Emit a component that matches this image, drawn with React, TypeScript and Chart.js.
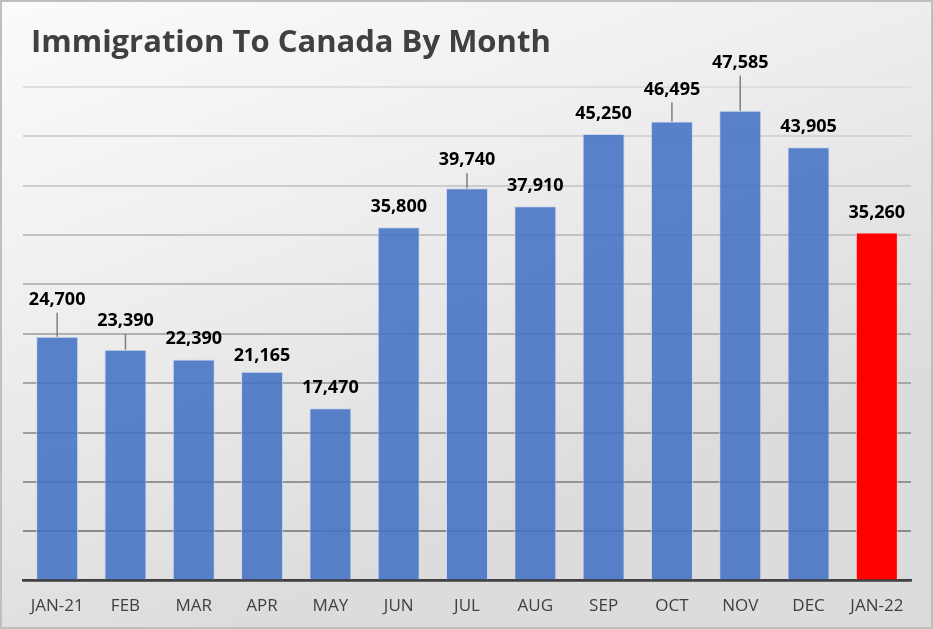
import React, { useEffect, useRef } from "react";
import { Chart, registerables } from "chart.js";

Chart.register(...registerables);

const TITLE = "Immigration To Canada By Month";
const categories = ["JAN-21", "FEB", "MAR", "APR", "MAY", "JUN", "JUL", "AUG", "SEP", "OCT", "NOV", "DEC", "JAN-22"];
const values = [24700, 23390, 22390, 21165, 17470, 35800, 39740, 37910, 45250, 46495, 47585, 43905, 35260];
const highlightIndex = [12];
const yMin = 0;
const yMax = 50000;
const yStep = 5000;

// label placement (style): distance in px from bar top to label centre, and whether a leader line is drawn
const labelLift = [37, 29, 21, 16, 20, 20, 28, 20, 20, 32, 48, 20, 20];
const leader = [true, true, false, false, false, false, true, false, false, true, true, false, false];

const FONT = "'Open Sans', 'DejaVu Sans', sans-serif";

const backgroundPlugin = {
  id: "bgPlugin",
  beforeDraw(chart: any) {
    const { ctx, width, height } = chart;
    ctx.save();
    const g = ctx.createLinearGradient(0, 0, width * 0.25, height);
    g.addColorStop(0, "#fbfbfb");
    g.addColorStop(0.45, "#efefef");
    g.addColorStop(1, "#dcdcdc");
    ctx.fillStyle = g;
    ctx.fillRect(0, 0, width, height);
    ctx.strokeStyle = "#bfbfbf";
    ctx.lineWidth = 2;
    ctx.strokeRect(1, 1, width - 2, height - 2);
    ctx.restore();
  },
};

const titlePlugin = {
  id: "titlePlugin",
  afterDraw(chart: any) {
    const { ctx } = chart;
    ctx.save();
    ctx.font = `bold 31px ${FONT}`;
    ctx.fillStyle = "#404040";
    ctx.textAlign = "left";
    ctx.textBaseline = "alphabetic";
    ctx.fillText(TITLE, 31, 52);
    ctx.restore();
  },
};

const labelPlugin = {
  id: "labelPlugin",
  afterDatasetsDraw(chart: any) {
    const { ctx } = chart;
    const meta = chart.getDatasetMeta(0);
    ctx.save();
    ctx.font = `bold 18px ${FONT}`;
    ctx.fillStyle = "#000000";
    ctx.textAlign = "center";
    ctx.textBaseline = "middle";
    meta.data.forEach((bar: any, i: number) => {
      const v = values[i];
      const txt = v.toLocaleString("en-US");
      const cy = bar.y - labelLift[i];
      ctx.fillText(txt, bar.x, cy);
      if (leader[i]) {
        ctx.strokeStyle = "#7f7f7f";
        ctx.lineWidth = 1.5;
        ctx.beginPath();
        ctx.moveTo(bar.x, cy + 13);
        ctx.lineTo(bar.x, bar.y);
        ctx.stroke();
      }
    });
    ctx.restore();
  },
};

function gridShade(value: number) {
  const t = (value - yMin) / (yMax - yMin);
  const l = Math.round(140 + 82 * Math.max(0, Math.min(1, (t - 0.1) / 0.9)));
  return `rgb(${l},${l},${l})`;
}

export default function App() {
  const ref = useRef<HTMLCanvasElement | null>(null);

  useEffect(() => {
    if (!ref.current) return;
    const chart = new Chart(ref.current, {
      type: "bar",
      data: {
        labels: categories,
        datasets: [
          {
            data: values,
            backgroundColor: values.map((_, i) =>
              highlightIndex.includes(i) ? "#ff0000" : "rgba(68,114,196,0.88)"
            ),
            borderColor: values.map((_, i) =>
              highlightIndex.includes(i) ? "rgba(255,200,200,0.8)" : "rgba(200,215,240,0.9)"
            ),
            borderWidth: 1,
            barPercentage: 0.615,
            categoryPercentage: 1,
          },
        ],
      },
      options: {
        animation: false,
        responsive: false,
        maintainAspectRatio: false,
        layout: { padding: { left: 23, right: 22, top: 87, bottom: -2 } },
        plugins: {
          legend: { display: false },
          title: { display: false },
          tooltip: { enabled: false },
        },
        scales: {
          x: {
            grid: { display: false, drawTicks: false },
            border: { display: true, color: "#404040", width: 2.5 },
            ticks: {
              color: "#404040",
              font: { family: FONT, size: 17 },
              padding: 15,
              maxRotation: 0,
              autoSkip: false,
            },
          },
          y: {
            min: yMin,
            max: yMax,
            border: { display: false },
            grid: {
              drawTicks: false,
              lineWidth: 2,
              color: (ctx: any) => gridShade(ctx.tick ? ctx.tick.value : 0),
            },
            ticks: { display: false, stepSize: yStep },
          },
        },
      },
      plugins: [backgroundPlugin, labelPlugin, titlePlugin],
    });
    return () => chart.destroy();
  }, []);

  return (
    <div style={{ position: "fixed", left: 0, top: 0, width: 933, height: 629 }}>
      <canvas ref={ref} width={933} height={629} style={{ width: 933, height: 629, display: "block" }} />
    </div>
  );
}
